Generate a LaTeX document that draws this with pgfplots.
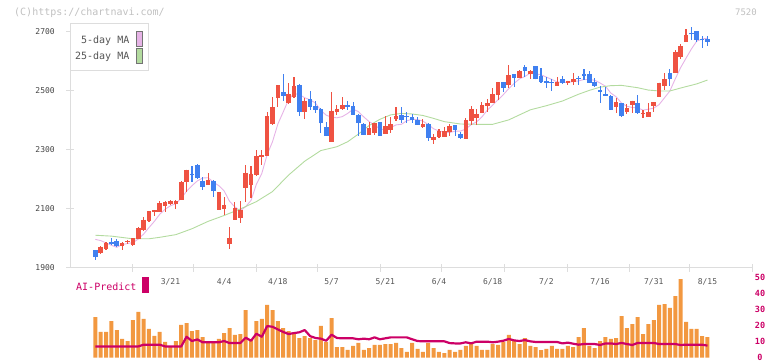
\documentclass[border=0pt]{standalone}
\usepackage{fontspec}
\setmainfont{DejaVu Sans Mono}
\setmonofont{DejaVu Sans Mono}
\usepackage{pgfplots}
\pgfplotsset{compat=1.18}
\usepackage{pgfplotstable}
\definecolor{cRed}{HTML}{EF5242}
\definecolor{cBlue}{HTML}{4080F0}
\definecolor{cOrange}{HTML}{F29840}
\definecolor{cMag}{HTML}{CC0066}
\definecolor{cPink}{HTML}{E6B3E6}
\definecolor{cGreen}{HTML}{B3DB9F}
\definecolor{cAxis}{HTML}{DDDDDD}
\definecolor{cTxt}{HTML}{555555}
\definecolor{cDark}{HTML}{444444}
\definecolor{cCopy}{HTML}{C0C0C0}

\pgfplotstableread{
i O H L C M V A
0 1960 1962 1927 1937 1997 25.6 7.1
1 1952 1975 1948 1971 1993 16.2 7.1
2 1963 1987 1960 1985 1985 16.2 7.1
3 1989 2000 1978 1980 1977 23.1 7.1
4 1993 1998 1972 1976 1970 17.4 7.1
5 1976 1988 1960 1985 1979 11.8 7.1
6 1987 1995 1983 1991 1983 10.5 7.1
7 1978 2003 1976 2000 1986 23.7 7.1
8 1999 2038 1997 2036 1998 28.8 7.1
9 2028 2073 2026 2064 2015 24.4 8.2
10 2058 2094 2056 2092 2037 18.1 8.2
11 2089 2098 2076 2096 2058 13.7 8.2
12 2091 2126 2089 2120 2082 16.2 8.2
13 2111 2127 2089 2122 2099 9.9 7.1
14 2118 2129 2115 2126 2111 7.0 7.1
15 2118 2131 2100 2126 2118 10.5 7.1
16 2131 2194 2129 2193 2137 20.6 7.1
17 2190 2233 2157 2233 2160 21.8 13.2
18 2220 2244 2193 2216 2179 16.8 10.5
19 2249 2252 2201 2204 2195 17.4 11.5
20 2196 2208 2165 2176 2205 13.0 9.7
21 2182 2221 2180 2199 2206 9.9 9.7
22 2196 2198 2139 2160 2191 9.9 9.7
23 2098 2158 2096 2156 2179 11.8 9.7
24 2101 2140 2081 2115 2161 15.5 10.5
25 1980 2039 1966 2002 2126 18.7 9.2
26 2064 2125 2062 2103 2107 14.3 9.2
27 2070 2126 2051 2096 2094 14.9 9.2
28 2172 2249 2125 2223 2108 30.0 12.6
29 2181 2246 2138 2219 2129 11.1 10.7
30 2215 2300 2213 2280 2184 23.1 15.1
31 2277 2300 2249 2282 2220 24.4 13.2
32 2280 2430 2278 2415 2284 33.2 19.9
33 2388 2481 2386 2445 2328 30.0 19.5
34 2477 2520 2445 2520 2388 23.1 17.8
35 2495 2558 2466 2484 2429 18.7 16.2
36 2460 2528 2455 2490 2471 16.8 14.9
37 2479 2546 2477 2517 2491 15.5 15.5
38 2520 2522 2415 2430 2488 12.4 16.0
39 2430 2477 2405 2466 2477 13.6 17.4
40 2473 2500 2436 2447 2470 12.4 13.6
41 2449 2467 2424 2436 2459 11.1 12.4
42 2439 2441 2359 2390 2434 20.0 12.0
43 2379 2396 2349 2349 2418 9.9 10.7
44 2326 2498 2326 2433 2411 25.0 14.5
45 2428 2453 2419 2439 2409 6.7 12.4
46 2439 2481 2437 2453 2413 6.7 12.2
47 2453 2467 2436 2447 2424 4.9 12.2
48 2449 2464 2419 2419 2438 7.4 12.2
49 2419 2422 2349 2390 2430 9.3 11.6
50 2388 2390 2351 2351 2412 4.9 12.0
51 2351 2396 2350 2373 2396 6.1 11.6
52 2356 2393 2351 2390 2385 8.0 12.8
53 2394 2395 2349 2349 2371 8.0 11.6
54 2354 2416 2353 2381 2369 8.6 12.2
55 2368 2413 2359 2388 2376 8.6 12.8
56 2405 2447 2398 2415 2385 9.3 12.8
57 2419 2445 2393 2402 2387 6.1 12.8
58 2415 2430 2393 2411 2399 3.6 12.8
59 2413 2423 2393 2402 2404 9.3 11.6
60 2402 2413 2385 2385 2403 5.5 10.5
61 2379 2405 2373 2388 2398 3.6 10.3
62 2388 2390 2332 2342 2386 9.3 10.3
63 2334 2355 2321 2343 2372 6.1 10.3
64 2343 2370 2341 2363 2364 3.6 10.3
65 2345 2377 2344 2364 2360 2.9 10.3
66 2362 2388 2347 2381 2359 4.9 9.2
67 2385 2386 2347 2368 2364 3.6 9.0
68 2354 2362 2340 2342 2364 4.9 9.0
69 2338 2407 2337 2402 2371 7.4 9.7
70 2399 2449 2385 2439 2386 9.3 9.0
71 2410 2439 2385 2422 2395 7.4 10.1
72 2427 2464 2426 2453 2412 4.9 10.1
73 2450 2473 2430 2458 2435 4.9 10.1
74 2460 2511 2459 2490 2452 8.6 9.7
75 2486 2530 2469 2529 2470 8.0 10.1
76 2529 2530 2498 2511 2488 9.9 10.7
77 2520 2588 2511 2554 2508 14.3 11.8
78 2558 2559 2515 2545 2526 11.1 10.9
79 2545 2571 2544 2568 2541 8.6 10.5
80 2580 2588 2549 2569 2549 12.4 11.1
81 2558 2570 2540 2568 2561 7.4 10.3
82 2585 2586 2540 2540 2558 6.7 9.9
83 2551 2577 2531 2532 2555 4.8 9.9
84 2534 2546 2511 2528 2547 5.5 9.9
85 2532 2541 2501 2528 2539 7.4 9.9
86 2518 2546 2517 2529 2531 5.5 9.9
87 2540 2551 2524 2528 2529 5.5 9.0
88 2528 2534 2520 2534 2529 7.4 9.5
89 2529 2560 2520 2540 2532 6.7 8.8
90 2545 2551 2520 2540 2534 13.0 8.2
91 2558 2575 2537 2552 2539 18.7 8.6
92 2558 2568 2528 2528 2539 7.4 8.6
93 2529 2543 2517 2518 2536 6.1 8.6
94 2503 2517 2460 2498 2527 10.5 8.0
95 2490 2515 2484 2484 2516 13.0 9.0
96 2484 2485 2436 2436 2493 11.8 9.0
97 2447 2475 2424 2462 2480 12.4 8.6
98 2458 2459 2413 2415 2459 26.2 9.3
99 2429 2456 2422 2443 2448 18.7 8.6
100 2452 2466 2427 2466 2444 21.2 8.0
101 2460 2486 2424 2427 2443 25.6 9.3
102 2421 2436 2410 2425 2435 14.9 9.3
103 2413 2460 2412 2430 2438 21.2 9.3
104 2450 2462 2429 2462 2442 23.7 9.3
105 2481 2528 2480 2528 2454 33.2 8.6
106 2518 2562 2503 2540 2477 33.8 8.6
107 2560 2573 2518 2542 2500 31.3 8.6
108 2562 2639 2561 2633 2541 38.8 8.6
109 2616 2658 2610 2652 2579 49.5 8.0
110 2667 2710 2666 2690 2611 22.5 8.2
111 2697 2717 2673 2693 2642 18.1 8.2
112 2703 2704 2667 2673 2669 18.1 8.2
113 2676 2686 2645 2672 2676 13.6 8.2
114 2676 2686 2653 2667 2679 13.0 7.6
}\candles

\pgfplotsset{
  candle/.style 2 args={only marks, mark=*, mark size=0pt,
    mark options={draw=none, fill=none},
    error bars/y dir=both, error bars/y explicit, error bars/error mark=none,
    error bars/error bar style={draw=#1, line width=#2}},
}

\begin{document}
\begin{tikzpicture}
\useasboundingbox (0pt,0pt) rectangle (772pt,-361pt);

\begin{axis}[
  at={(70pt,-268pt)}, anchor=south west,
  scale only axis, width=682pt, height=244pt,
  xmin=-4.71, xmax=122.29, ymin=1900, ymax=2727,
  axis x line*=bottom, axis y line*=left,
  axis line style={draw=cAxis, line width=1pt},
  tick align=center, major tick length=7.5pt,
  tick style={draw=cAxis, line width=1pt},
  xtick={7.02,18.38,30.11,41.47,53.02,64.56,76.11,87.84,99.39,110.74,122.29},
  xticklabels={},
  extra x ticks={14,24,34,44,54,64,74,84,94,104,114},
  extra x tick labels={3/21,4/4,4/18,5/7,5/21,6/4,6/18,7/2,7/16,7/31,8/15},
  extra x tick style={major tick length=0pt, tick label style={anchor=base, yshift=-17pt, font=\fontsize{8}{9}\selectfont, text=cTxt}},
  ytick={1900,2100,2300,2500,2700},
  yticklabels={1900,2100,2300,2500,2700},
  yticklabel style={anchor=east, xshift=-8pt, font=\fontsize{8}{9}\selectfont, text=cDark},
]
\addplot[cPink, line width=0.9pt] table[x=i, y=M] {\candles};
\addplot[cGreen, line width=0.9pt] coordinates {
(0,2011) (3,2008) (7,1999) (10,1999) (12,2004) (15,2013) (18,2033) (21,2058)
(24,2078) (27,2100) (30,2125) (33,2159) (36,2215) (39,2262) (42,2298) (45,2311)
(47,2328) (49,2354) (51,2383) (53,2404) (55,2419) (57,2424) (59,2422) (61,2417)
(63,2407) (65,2396) (68,2388) (71,2387) (74,2387) (77,2402) (79,2419) (81,2436)
(84,2450) (87,2466) (90,2489) (92,2502) (94,2513) (96,2518) (98,2519) (101,2511)
(103,2503) (105,2500) (107,2500) (109,2510) (112,2524) (114,2537)};
% up candles: wicks
\addplot[candle={cRed}{1.1pt}]
  table[x=i, y expr={\thisrow{C}>\thisrow{O} ? \thisrow{C} : -1000},
        y error plus expr=\thisrow{H}-\thisrow{C},
        y error minus expr=\thisrow{C}-\thisrow{L}] {\candles};
% up candles: bodies
\addplot[candle={cRed}{4.6pt}]
  table[x=i, y expr={\thisrow{C}>\thisrow{O} ? \thisrow{C} : -1000},
        y error plus expr=0,
        y error minus expr=\thisrow{C}-\thisrow{O}] {\candles};
% down candles: wicks
\addplot[candle={cBlue}{1.1pt}]
  table[x=i, y expr={\thisrow{C}<\thisrow{O} ? \thisrow{C} : -1000},
        y error plus expr=\thisrow{H}-\thisrow{C},
        y error minus expr=\thisrow{C}-\thisrow{L}] {\candles};
% down candles: bodies
\addplot[candle={cBlue}{4.6pt}]
  table[x=i, y expr={\thisrow{C}<\thisrow{O} ? \thisrow{C} : -1000},
        y error plus expr=\thisrow{O}-\thisrow{C},
        y error minus expr=0] {\candles};
\end{axis}

\begin{axis}[
  at={(70pt,-357.7pt)}, anchor=south west,
  scale only axis, width=682pt, height=79.4pt,
  xmin=-4.71, xmax=122.29, ymin=0, ymax=50,
  hide x axis,
  axis y line*=right, y axis line style={draw=none},
  major tick length=0pt,
  ytick={0,10,20,30,40,50}, yticklabels={0,10,20,30,40,50},
  yticklabel style={anchor=center, xshift=8pt, yshift=0.5pt, font=\fontsize{8.5}{10}\selectfont\bfseries, text=cMag},
]
\addplot[ybar, bar width=4pt, fill=cOrange, draw=none] table[x=i, y=V] {\candles};
\addplot[cMag, line width=2.2pt, line join=round] table[x=i, y=A] {\candles};
\end{axis}

% header texts
\node[anchor=base west, inner sep=0, text=cCopy, font=\fontsize{10}{12}\selectfont] at (14pt,-15.5pt) {(C)https://chartnavi.com/};
\node[anchor=base east, inner sep=0, text=cCopy, font=\fontsize{9}{11}\selectfont] at (757pt,-16pt) {7520};
% MA legend
\draw[draw=cAxis, fill=white, line width=1pt] (70pt,-24pt) rectangle (148pt,-71pt);
\node[anchor=base east, inner sep=0, text=cTxt, font=\fontsize{10}{12}\selectfont] at (129.5pt,-44pt) {5-day MA};
\node[anchor=base east, inner sep=0, text=cTxt, font=\fontsize{10}{12}\selectfont] at (129.5pt,-60pt) {25-day MA};
\draw[fill=cPink, draw=gray!90!black, line width=0.8pt] (136.8pt,-31.5pt) rectangle (142.3pt,-46pt);
\draw[fill=cGreen, draw=gray!90!black, line width=0.8pt] (136.8pt,-48.5pt) rectangle (142.3pt,-63pt);
% AI-Predict label
\node[anchor=base west, inner sep=0, text=cMag, font=\fontsize{10}{12}\selectfont] at (76pt,-290pt) {AI-Predict};
\fill[cMag] (142.3pt,-277pt) rectangle (148.7pt,-293pt);
\end{tikzpicture}
\end{document}
